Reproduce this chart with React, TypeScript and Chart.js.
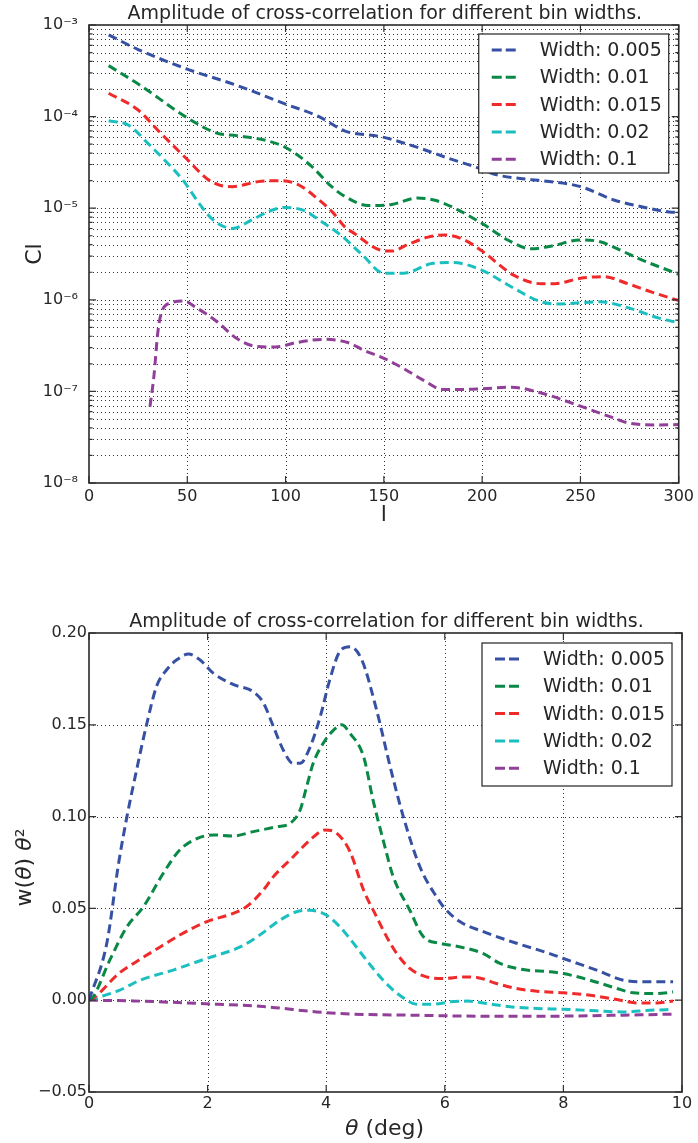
import React, { useEffect, useRef } from 'react';
import { Chart, registerables } from 'chart.js';

Chart.register(...registerables);

const FONT = '"DejaVu Sans", "Bitstream Vera Sans", sans-serif';
const TEXT = '#262626';

const seriesLabels = ['Width: 0.005', 'Width: 0.01', 'Width: 0.015', 'Width: 0.02', 'Width: 0.1'];
const seriesColors = ['#3651a3', '#0a8946', '#ef2a2a', '#1cbfc0', '#913f98'];

const chartTitle = 'Amplitude of cross-correlation for different bin widths.';

// ---------- Top chart: Cl vs l ----------
const lBlue = [10, 25, 50, 75, 100, 117, 130, 149, 166, 183, 196, 208, 225, 233, 250, 267, 280, 295, 300];
const clBlue = [7.8e-4, 5.4e-4, 3.3e-4, 2.2e-4, 1.37e-4, 1.0e-4, 7.0e-5, 6.0e-5, 4.7e-5, 3.5e-5, 2.85e-5, 2.3e-5, 2.05e-5, 1.97e-5, 1.72e-5, 1.23e-5, 1.05e-5, 9.1e-6, 9.0e-6];

const lGreen = [10, 26, 50, 65, 75, 90, 100, 113, 123, 130, 142, 154, 167, 176, 186, 200, 213, 225, 236, 250, 260, 272, 279, 300];
const clGreen = [3.6e-4, 2.2e-4, 9.7e-5, 6.6e-5, 6.2e-5, 5.5e-5, 4.6e-5, 2.9e-5, 1.75e-5, 1.35e-5, 1.07e-5, 1.1e-5, 1.29e-5, 1.22e-5, 1.0e-5, 6.8e-6, 4.5e-6, 3.6e-6, 3.9e-6, 4.5e-6, 4.3e-6, 3.35e-6, 2.85e-6, 1.9e-6];

const lRed = [10, 25, 35, 50, 60, 66, 73, 86, 98, 107, 117, 124, 130, 135, 148, 154, 162, 172, 181, 191, 200, 216, 230, 237, 250, 262, 274, 286, 300];
const clRed = [1.8e-4, 1.18e-4, 7.1e-5, 3.4e-5, 2.1e-5, 1.8e-5, 1.72e-5, 1.95e-5, 2.0e-5, 1.78e-5, 1.23e-5, 9.0e-6, 6.3e-6, 5.3e-6, 3.5e-6, 3.4e-6, 4.0e-6, 4.8e-6, 5.1e-6, 4.5e-6, 3.4e-6, 1.86e-6, 1.5e-6, 1.5e-6, 1.72e-6, 1.79e-6, 1.5e-6, 1.22e-6, 0.98e-6];

const lCyan = [10, 20, 30, 40, 48, 56, 63, 73, 83, 93, 100, 110, 118, 128, 139, 150, 160, 175, 185, 200, 215, 230, 240, 250, 260, 275, 290, 300];
const clCyan = [9.0e-5, 8.1e-5, 5.1e-5, 3.1e-5, 2.0e-5, 1.13e-5, 7.5e-6, 6.0e-6, 7.5e-6, 9.5e-6, 1.02e-5, 9.3e-6, 7.2e-6, 5.1e-6, 3.1e-6, 1.95e-6, 1.95e-6, 2.5e-6, 2.55e-6, 2.1e-6, 1.38e-6, 9.5e-7, 9.0e-7, 9.3e-7, 9.5e-7, 8.1e-7, 6.3e-7, 5.6e-7];

const lPurple = [31, 33, 35, 37, 42, 48, 55, 65, 75, 85, 95, 105, 120, 132, 140, 150, 160, 170, 180, 190, 200, 215, 230, 250, 265, 275, 290, 300];
const clPurple = [6.8e-8, 1.45e-7, 4.4e-7, 7.4e-7, 9.3e-7, 9.7e-7, 8.1e-7, 5.8e-7, 3.8e-7, 3.1e-7, 3.05e-7, 3.4e-7, 3.7e-7, 3.4e-7, 2.8e-7, 2.3e-7, 1.78e-7, 1.33e-7, 1.05e-7, 1.05e-7, 1.07e-7, 1.11e-7, 9.6e-8, 6.9e-8, 5.3e-8, 4.5e-8, 4.3e-8, 4.35e-8];

const topXTicks = [0, 50, 100, 150, 200, 250, 300];
const topYExponents = [-8, -7, -6, -5, -4, -3];
const topYLabels = ['10⁻⁸', '10⁻⁷', '10⁻⁶', '10⁻⁵', '10⁻⁴', '10⁻³'];
const topYMantissas = [1, 2, 3, 4, 5, 6, 7, 8, 9];

// ---------- Bottom chart: w(theta) theta^2 vs theta ----------
const tBlue = [0, 0.3, 0.5, 0.64, 0.8, 0.97, 1.14, 1.31, 1.48, 1.68, 1.87, 2.1, 2.43, 2.77, 2.94, 3.11, 3.28, 3.44, 3.56, 3.73, 3.9, 4.06, 4.23, 4.4, 4.6, 4.85, 5.08, 5.3, 5.58, 5.86, 6.0, 6.26, 6.65, 7.21, 7.77, 8.0, 8.56, 9.01, 9.35, 9.85];
const wBlue = [0, 0.031, 0.0747, 0.1, 0.125, 0.15, 0.171, 0.18, 0.1854, 0.1885, 0.1854, 0.178, 0.172, 0.168, 0.162, 0.149, 0.136, 0.129, 0.129, 0.138, 0.1545, 0.1745, 0.19, 0.1925, 0.1854, 0.158, 0.127, 0.1, 0.0727, 0.0563, 0.05, 0.0427, 0.0373, 0.031, 0.0254, 0.0227, 0.0164, 0.0109, 0.01, 0.01];

const tGreen = [0, 0.07, 0.35, 0.64, 0.92, 1.25, 1.53, 1.82, 2.1, 2.43, 2.77, 3.17, 3.39, 3.56, 3.67, 3.78, 3.95, 4.12, 4.26, 4.4, 4.63, 4.79, 4.96, 5.13, 5.41, 5.64, 5.92, 6.26, 6.65, 6.93, 7.32, 7.77, 8.0, 8.45, 8.9, 9.18, 9.57, 9.85];
const wGreen = [0, 0.0018, 0.0218, 0.04, 0.051, 0.069, 0.0818, 0.088, 0.09, 0.0894, 0.0918, 0.0945, 0.0963, 0.1036, 0.1163, 0.129, 0.14, 0.147, 0.15, 0.1454, 0.1327, 0.109, 0.0873, 0.0673, 0.049, 0.0345, 0.031, 0.029, 0.0254, 0.02, 0.0167, 0.0155, 0.0145, 0.0109, 0.0064, 0.004, 0.0036, 0.0045];

const tRed = [0, 0.07, 0.5, 0.75, 1.2, 1.53, 1.98, 2.43, 2.66, 2.94, 3.11, 3.44, 3.73, 3.98, 4.18, 4.4, 4.63, 4.85, 5.02, 5.19, 5.41, 5.69, 5.98, 6.31, 6.54, 6.87, 7.21, 7.55, 8.0, 8.45, 8.9, 9.24, 9.57, 9.85];
const wRed = [0, 0.001, 0.0145, 0.02, 0.029, 0.0355, 0.0427, 0.0473, 0.051, 0.06, 0.0673, 0.078, 0.0873, 0.0927, 0.0909, 0.081, 0.06, 0.0454, 0.0345, 0.0254, 0.0173, 0.0127, 0.0118, 0.0127, 0.0124, 0.0091, 0.0064, 0.0049, 0.004, 0.0027, 0.0004, -0.0015, -0.0015, -0.0004];

const tCyan = [0, 0.19, 0.52, 0.86, 1.42, 1.98, 2.55, 2.88, 3.22, 3.5, 3.73, 4.0, 4.23, 4.4, 4.68, 4.96, 5.24, 5.53, 5.81, 6.09, 6.37, 6.65, 7.1, 7.55, 8.0, 8.56, 9.0, 9.46, 9.85];
const wCyan = [0, 0.0018, 0.0055, 0.0109, 0.0164, 0.0227, 0.029, 0.0355, 0.0436, 0.0482, 0.049, 0.0464, 0.04, 0.0335, 0.0218, 0.0109, 0.0027, -0.0022, -0.0022, -0.0009, -0.0005, -0.0015, -0.0036, -0.0045, -0.0049, -0.0058, -0.0064, -0.0055, -0.005];

const tPurple = [0, 0.75, 1.87, 3.0, 3.84, 4.4, 5.53, 6.65, 7.77, 8.9, 9.85];
const wPurple = [0, -0.0004, -0.0018, -0.0036, -0.0064, -0.0075, -0.0082, -0.0087, -0.0087, -0.0082, -0.0076];

const bottomXTicks = [0, 2, 4, 6, 8, 10];
const bottomYTicks = [-0.05, 0, 0.05, 0.1, 0.15, 0.2];

// axis titles as styled segments (θ in italic, like mathtext)
const bottomXTitle = [{ text: 'θ', italic: true }, { text: ' (deg)', italic: false }];
const bottomYTitle = [
  { text: 'w(', italic: false },
  { text: 'θ', italic: true },
  { text: ') ', italic: false },
  { text: 'θ', italic: true },
  { text: '²', italic: false },
];

// ---------- helpers ----------
const pts = (xs: number[], ys: number[]) => xs.map((x, i) => ({ x, y: ys[i] }));

const makeDatasets = (sets: [number[], number[]][]) =>
  sets.map(([xs, ys], i) => ({
    label: seriesLabels[i],
    data: pts(xs, ys),
    borderColor: seriesColors[i],
    backgroundColor: seriesColors[i],
    borderWidth: 3,
    borderDash: [9, 5],
    pointRadius: 0,
    fill: false,
    cubicInterpolationMode: 'monotone' as const,
  }));

const isPow10 = (v: number) => Math.abs(Math.log10(v) - Math.round(Math.log10(v))) < 1e-9;

function drawSegments(ctx: CanvasRenderingContext2D, segs: { text: string; italic: boolean }[], cx: number, cy: number, size: number, rot: number) {
  ctx.save();
  ctx.translate(cx, cy);
  ctx.rotate(rot);
  const fonts = segs.map((s) => `${s.italic ? 'italic ' : ''}${size}px ${FONT}`);
  const widths = segs.map((s, i) => {
    ctx.font = fonts[i];
    return ctx.measureText(s.text).width;
  });
  const total = widths.reduce((a, b) => a + b, 0);
  let x = -total / 2;
  ctx.fillStyle = TEXT;
  ctx.textAlign = 'left';
  ctx.textBaseline = 'alphabetic';
  segs.forEach((s, i) => {
    ctx.font = fonts[i];
    ctx.fillText(s.text, x, 0);
    x += widths[i];
  });
  ctx.restore();
}

const mplPlugin = {
  id: 'mpl',
  beforeDatasetsDraw(chart: any) {
    const { ctx, chartArea: a, scales } = chart;
    const x = scales.x, y = scales.y;
    ctx.save();
    ctx.strokeStyle = 'rgba(0,0,0,0.8)';
    ctx.lineWidth = 1;
    ctx.setLineDash([1, 3]);
    for (const t of x.ticks) {
      const px = Math.round(x.getPixelForValue(t.value)) + 0.5;
      if (px < a.left + 1 || px > a.right - 1) continue;
      ctx.beginPath();
      ctx.moveTo(px, a.top);
      ctx.lineTo(px, a.bottom);
      ctx.stroke();
    }
    for (const t of y.ticks) {
      const py = Math.round(y.getPixelForValue(t.value)) + 0.5;
      if (py < a.top + 1 || py > a.bottom - 1) continue;
      ctx.beginPath();
      ctx.moveTo(a.left, py);
      ctx.lineTo(a.right, py);
      ctx.stroke();
    }
    ctx.restore();
  },
  afterDatasetsDraw(chart: any, _args: any, opts: any) {
    const { ctx, chartArea: a, scales } = chart;
    const x = scales.x, y = scales.y;
    const isLog = y.type === 'logarithmic';
    ctx.save();
    ctx.setLineDash([]);
    ctx.strokeStyle = '#333';
    ctx.lineWidth = 1.2;
    // inward ticks
    for (const t of x.ticks) {
      const px = x.getPixelForValue(t.value);
      ctx.beginPath();
      ctx.moveTo(px, a.bottom); ctx.lineTo(px, a.bottom - 7);
      ctx.moveTo(px, a.top); ctx.lineTo(px, a.top + 7);
      ctx.stroke();
    }
    for (const t of y.ticks) {
      const py = y.getPixelForValue(t.value);
      const len = !isLog || isPow10(t.value) ? 7 : 3.5;
      ctx.beginPath();
      ctx.moveTo(a.left, py); ctx.lineTo(a.left + len, py);
      ctx.moveTo(a.right, py); ctx.lineTo(a.right - len, py);
      ctx.stroke();
    }
    // frame
    ctx.lineWidth = 1.6;
    ctx.strokeStyle = '#2a2a2a';
    ctx.strokeRect(a.left, a.top, a.right - a.left, a.bottom - a.top);

    // legend
    const bw = 190, bh = opts.legendHeight || 140;
    const bx = a.right - 10 - bw;
    const by = a.top + (opts.legendTop || 9.5);
    ctx.fillStyle = '#ffffff';
    ctx.fillRect(bx, by, bw, bh);
    ctx.lineWidth = 1.2;
    ctx.strokeStyle = '#222';
    ctx.strokeRect(bx, by, bw, bh);
    ctx.font = `19px ${FONT}`;
    ctx.textBaseline = 'middle';
    ctx.textAlign = 'left';
    chart.data.datasets.forEach((ds: any, i: number) => {
      const cy = by + 16 + i * 27.3;
      ctx.strokeStyle = ds.borderColor;
      ctx.lineWidth = 3;
      ctx.setLineDash([10, 4]);
      ctx.beginPath();
      ctx.moveTo(bx + 13, cy);
      ctx.lineTo(bx + 37, cy);
      ctx.stroke();
      ctx.setLineDash([]);
      ctx.fillStyle = TEXT;
      ctx.fillText(ds.label, bx + 61, cy + 1);
    });
    ctx.restore();
  },
  afterDraw(chart: any, _args: any, opts: any) {
    const { ctx, chartArea: a } = chart;
    ctx.save();
    ctx.font = `19px ${FONT}`;
    ctx.fillStyle = TEXT;
    ctx.textAlign = 'center';
    ctx.textBaseline = 'alphabetic';
    ctx.fillText(opts.title, (a.left + a.right) / 2 + 1, opts.titleBaseline);
    ctx.restore();
    if (opts.xTitle) drawSegments(ctx, opts.xTitle, (a.left + a.right) / 2 - 1, opts.xTitleBaseline, 22, 0);
    if (opts.yTitle) drawSegments(ctx, opts.yTitle, opts.yTitleBaselineX, (a.top + a.bottom) / 2 + 5, 22, -Math.PI / 2);
  },
};

const tickFont = { family: FONT, size: 16 };

function TopChart() {
  const ref = useRef<HTMLCanvasElement>(null);
  useEffect(() => {
    const logTicks: number[] = [];
    topYExponents.forEach((e, i) => {
      const ms = i === topYExponents.length - 1 ? [1] : topYMantissas;
      ms.forEach((m) => logTicks.push(m * Math.pow(10, e)));
    });
    const chart = new Chart(ref.current as HTMLCanvasElement, {
      type: 'line',
      data: {
        datasets: makeDatasets([
          [lBlue, clBlue],
          [lGreen, clGreen],
          [lRed, clRed],
          [lCyan, clCyan],
          [lPurple, clPurple],
        ]) as any,
      },
      plugins: [mplPlugin],
      options: {
        animation: false,
        responsive: false,
        layout: { padding: { left: 0, right: 16, top: 25, bottom: 0 } },
        plugins: {
          legend: { display: false },
          tooltip: { enabled: false },
          title: { display: false },
          mpl: { legendTop: 9, legendHeight: 139, title: chartTitle, titleBaseline: 18.5 },
        } as any,
        scales: {
          x: {
            type: 'linear',
            min: 0,
            max: 300,
            afterBuildTicks: (s: any) => { s.ticks = topXTicks.map((v) => ({ value: v })); },
            afterFit: (s: any) => { s.height = 57; },
            grid: { display: false, drawTicks: false },
            border: { display: false },
            ticks: { font: tickFont, color: TEXT, padding: 4, maxRotation: 0, autoSkip: false },
            title: {
              display: true,
              text: 'l',
              color: TEXT,
              font: { family: FONT, size: 22 },
              padding: { top: 0, bottom: 11.8 },
            },
          },
          y: {
            type: 'logarithmic',
            min: 1e-8,
            max: 1e-3,
            afterBuildTicks: (s: any) => { s.ticks = logTicks.map((v) => ({ value: v })); },
            afterFit: (s: any) => { s.width = 89; },
            grid: { display: false, drawTicks: false },
            border: { display: false },
            ticks: {
              font: tickFont,
              color: TEXT,
              padding: 11,
              autoSkip: false,
              callback: (v: any) => {
                const n = Number(v);
                if (!isPow10(n)) return '';
                const idx = topYExponents.indexOf(Math.round(Math.log10(n)));
                return idx >= 0 ? topYLabels[idx] : '';
              },
            },
            title: {
              display: true,
              text: 'Cl',
              color: TEXT,
              font: { family: FONT, size: 22 },
              padding: { top: 21.8, bottom: 0 },
            },
          },
        },
      },
    });
    return () => chart.destroy();
  }, []);
  return <canvas ref={ref} width={698} height={540} style={{ display: 'block', width: 698, height: 540 }} />;
}

function BottomChart() {
  const ref = useRef<HTMLCanvasElement>(null);
  useEffect(() => {
    const chart = new Chart(ref.current as HTMLCanvasElement, {
      type: 'line',
      data: {
        datasets: makeDatasets([
          [tBlue, wBlue],
          [tGreen, wGreen],
          [tRed, wRed],
          [tCyan, wCyan],
          [tPurple, wPurple],
        ]) as any,
      },
      plugins: [mplPlugin],
      options: {
        animation: false,
        responsive: false,
        layout: { padding: { left: 0, right: 16, top: 73, bottom: 0 } },
        plugins: {
          legend: { display: false },
          tooltip: { enabled: false },
          title: { display: false },
          mpl: {
            legendTop: 10,
            legendHeight: 143,
            title: chartTitle,
            titleBaseline: 66.7,
            xTitle: bottomXTitle,
            xTitleBaseline: 575,
            yTitle: bottomYTitle,
            yTitleBaselineX: 31,
          },
        } as any,
        scales: {
          x: {
            type: 'linear',
            min: 0,
            max: 10,
            afterBuildTicks: (s: any) => { s.ticks = bottomXTicks.map((v) => ({ value: v })); },
            afterFit: (s: any) => { s.height = 51; },
            grid: { display: false, drawTicks: false },
            border: { display: false },
            ticks: { font: tickFont, color: TEXT, padding: 2, maxRotation: 0, autoSkip: false },
            title: { display: false },
          },
          y: {
            type: 'linear',
            min: -0.05,
            max: 0.2,
            afterBuildTicks: (s: any) => { s.ticks = bottomYTicks.map((v) => ({ value: v })); },
            afterFit: (s: any) => { s.width = 89; },
            grid: { display: false, drawTicks: false },
            border: { display: false },
            ticks: {
              font: tickFont,
              color: TEXT,
              padding: 2,
              autoSkip: false,
              callback: (v: any) => {
                const n = Number(v);
                if (Math.abs(n) < 1e-9) return '0.00';
                return n.toFixed(2).replace('-', '\u2212');
              },
            },
            title: { display: false },
          },
        },
      },
    });
    return () => chart.destroy();
  }, []);
  return <canvas ref={ref} width={698} height={583} style={{ display: 'block', width: 698, height: 583 }} />;
}

export default function App() {
  return (
    <div style={{ position: 'absolute', left: 0, top: 0, width: 698, height: 1143, background: '#fff' }}>
      <div style={{ position: 'absolute', left: 0, top: 0, width: 698, height: 540 }}>
        <TopChart />
      </div>
      <div style={{ position: 'absolute', left: 0, top: 560, width: 698, height: 583 }}>
        <BottomChart />
      </div>
    </div>
  );
}
